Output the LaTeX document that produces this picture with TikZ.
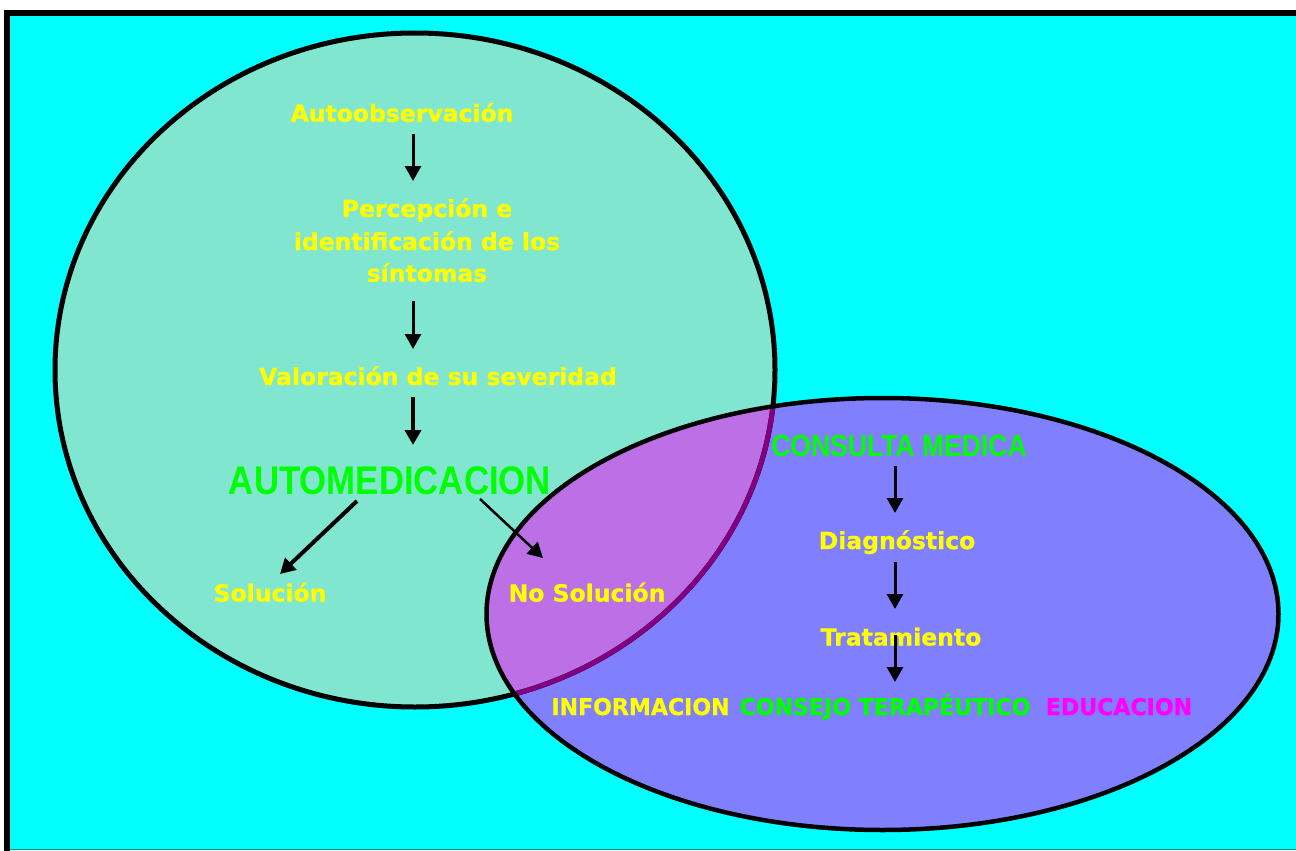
\documentclass[tikz,border=0pt]{standalone}
\usepackage{fontspec}
\setmainfont{DejaVu Sans}
\newfontfamily\yfont{DejaVu Sans}[BoldFeatures={FakeBold=0.8}]
\newfontfamily\narrowf{Liberation Sans}[FakeStretch=0.87,BoldFeatures={FakeStretch=0.87}]
\newfontfamily\condf{DejaVu Sans}[FakeStretch=0.96,BoldFeatures={FakeStretch=0.96,FakeBold=0.8}]
\usetikzlibrary{arrows.meta}
\definecolor{bgcyan}{RGB}{0,255,255}
\definecolor{circfill}{RGB}{128,230,207}
\definecolor{ellfill}{RGB}{128,128,255}
\definecolor{interfill}{RGB}{189,112,230}
\definecolor{arcpurple}{RGB}{128,0,128}
\definecolor{txtyellow}{RGB}{255,255,0}
\definecolor{txtgreen}{RGB}{0,255,0}
\definecolor{txtmagenta}{RGB}{255,0,255}
\definecolor{edgeteal}{RGB}{0,150,150}
\tikzset{
  ytext/.style={text=txtyellow, font=\yfont\fontsize{23.5}{28}\selectfont\bfseries, inner sep=0pt, anchor=base},
  gbig/.style={text=txtgreen, font=\narrowf\fontsize{40}{48}\selectfont\bfseries, inner sep=0pt, anchor=base},
  gmid/.style={text=txtgreen, font=\narrowf\fontsize{30.5}{36}\selectfont\bfseries, inner sep=0pt, anchor=base},
  bottomtext/.style={font=\condf\fontsize{23}{27}\selectfont\bfseries, inner sep=0pt, anchor=base},
  arr/.style={line width=3pt, -{Triangle[width=16pt,length=15pt]}},
  arrthick/.style={line width=4pt, -{Triangle[width=16pt,length=15pt]}},
  arrthin/.style={line width=2.5pt, -{Triangle[width=16pt,length=15pt]}},
}
\begin{document}
\begin{tikzpicture}[x=1pt,y=-1pt]
\useasboundingbox (0,0) rectangle (1296,851);
% background and frame
\fill[white] (0,0) rectangle (1296,851);
\fill[bgcyan] (10,16) rectangle (1296,849);
\draw[edgeteal, line width=1.5pt] (10,849.5) -- (1296,849.5);
\fill[black] (4,10) rectangle (1296,16);
\fill[black] (4,10) rectangle (10,851);
% circle and ellipse
\fill[circfill] (415,370) ellipse [x radius=360, y radius=337];
\fill[ellfill] (882.5,614) ellipse [x radius=396, y radius=216];
\begin{scope}
  \clip (882.5,614) ellipse [x radius=396, y radius=216];
  \fill[interfill] (415,370) ellipse [x radius=360, y radius=337];
\end{scope}
\draw[black, line width=5pt] (415,370) ellipse [x radius=360, y radius=337];
\begin{scope}
  \clip (882.5,614) ellipse [x radius=396, y radius=216];
  \draw[arcpurple, line width=5pt] (415,370) ellipse [x radius=360, y radius=337];
\end{scope}
\draw[black, line width=4.5pt] (882.5,614) ellipse [x radius=396, y radius=216];
% left flow texts
\node[ytext] (auto) at (402,121.7) {Autoobservación};
\node[ytext] (p1) at (427,217) {Percepción e};
\node[ytext] (p2) at (427,250) {identificación de los};
\node[ytext] (p3) at (427,281.7) {síntomas};
\node[ytext] (val) at (438,385) {Valoración de su severidad};
\node[gbig] (am) at (390,494) {AUTOMEDICACION};
\node[ytext] (sol) at (270,601.5) {Solución};
\node[ytext] (nosol) at (587,601.5) {No Solución};
% right flow texts
\node[gmid] (cm) at (899,456) {CONSULTA MEDICA};
\node[ytext] (diag) at (897,549) {Diagnóstico};
\node[ytext] (trat) at (901,645.5) {Tratamiento};
\node[bottomtext, text=txtyellow] (inf) at (640.5,715) {INFORMACION};
\node[bottomtext, text=txtgreen] (cons) at (885,715) {CONSEJO TERAPÉUTICO};
\node[bottomtext, text=txtmagenta] (edu) at (1119,715) {EDUCACION};
% arrow end points
\coordinate (a1s) at (413,134);  \coordinate (a1e) at (413,181);
\coordinate (a2s) at (413,301);  \coordinate (a2e) at (413,349);
\coordinate (a3s) at (413,397);  \coordinate (a3e) at (413,445);
\coordinate (a4s) at (357,501);  \coordinate (a4e) at (280,574);
\coordinate (a5s) at (480,499);  \coordinate (a5e) at (543,558);
\coordinate (a6s) at (895,466);  \coordinate (a6e) at (895,513);
\coordinate (a7s) at (895,562);  \coordinate (a7e) at (895,609);
\coordinate (a8s) at (895,635);  \coordinate (a8e) at (895,682);
\draw[arr] (a1s) -- (a1e);
\draw[arr] (a2s) -- (a2e);
\draw[arrthick] (a3s) -- (a3e);
\draw[arrthick] (a4s) -- (a4e);
\draw[arrthin] (a5s) -- (a5e);
\draw[arr] (a6s) -- (a6e);
\draw[arr] (a7s) -- (a7e);
\draw[arr] (a8s) -- (a8e);
\end{tikzpicture}
\end{document}
